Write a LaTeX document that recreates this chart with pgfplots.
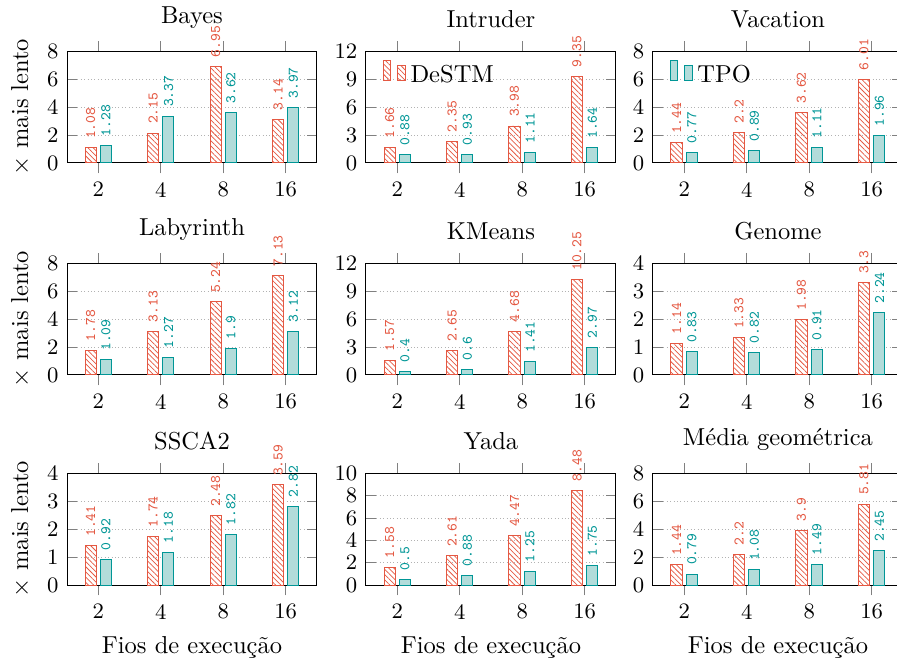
\documentclass[border=0pt]{standalone}
\usepackage{pgfplots}
\pgfplotsset{compat=1.18}
\usetikzlibrary{patterns.meta}
\definecolor{destm}{RGB}{228,88,66}
\definecolor{tpo}{RGB}{0,150,150}
\definecolor{tpofill}{RGB}{178,220,218}
\pgfplotsset{
  sub/.style={
    width=102pt, height=45.5pt, scale only axis,
    anchor=south west,
    ybar, bar width=4.5pt,
    xmin=-0.5, xmax=3.5, ymin=0,
    xtick={0,1,2,3}, xticklabels={2,4,8,16},
    xtick align=outside, ytick align=inside,
    tick style={gray, thin},
    ymajorgrids, grid style={densely dotted, gray!60},
    tick label style={font=\small},
    ylabel shift=0pt,
    clip=false,
    legend style={draw=none, fill=none, at={(0.035,0.97)}, anchor=north west, font=\normalsize},
    nodes near coords={\pgfmathprintnumber[assume math mode=true]{\pgfplotspointmeta}},
    every node near coord/.append style={rotate=90, anchor=west, font=\fontsize{6}{7}\selectfont\ttfamily, inner xsep=3.5pt, inner ysep=0pt},
  },
  dstm/.style={draw=destm, pattern={Lines[angle=-45,distance=1.5pt,line width=0.3pt]}, pattern color=destm, bar shift=-3.15pt, every node near coord/.append style={text=destm}},
  tpo/.style={draw=tpo, fill=tpofill, bar shift=3.15pt, every node near coord/.append style={text=tpo}},
}
\begin{document}
\begin{tikzpicture}
% Row 1
\begin{axis}[sub, at={(27.34pt,204pt)}, title={Bayes}, ymax=8, ytick={0,2,...,8}, ylabel={$\times$ mais lento}]
\addplot[dstm] coordinates {(0,1.08) (1,2.15) (2,6.95) (3,3.14)};
\addplot[tpo] coordinates {(0,1.28) (1,3.37) (2,3.62) (3,3.97)};
\end{axis}
\begin{axis}[sub, at={(149.33pt,204pt)}, title={Intruder}, ymax=12, ytick={0,3,...,12}]
\addplot[dstm] coordinates {(0,1.66) (1,2.35) (2,3.98) (3,9.35)};
\addlegendentry{DeSTM}
\addplot[tpo] coordinates {(0,0.88) (1,0.93) (2,1.11) (3,1.64)};
\end{axis}
\begin{axis}[sub, at={(266.42pt,204pt)}, title={Vacation}, ymax=8, ytick={0,2,...,8}]
\addplot[tpo] coordinates {(0,0.77) (1,0.89) (2,1.11) (3,1.96)};
\addlegendentry{TPO}
\addplot[dstm] coordinates {(0,1.44) (1,2.2) (2,3.62) (3,6.01)};
\end{axis}
% Row 2
\begin{axis}[sub, at={(27.34pt,117.5pt)}, title={Labyrinth}, ymax=8, ytick={0,2,...,8}, ylabel={$\times$ mais lento}]
\addplot[dstm] coordinates {(0,1.78) (1,3.13) (2,5.24) (3,7.13)};
\addplot[tpo] coordinates {(0,1.09) (1,1.27) (2,1.9) (3,3.12)};
\end{axis}
\begin{axis}[sub, at={(149.33pt,117.5pt)}, title={KMeans}, ymax=12, ytick={0,3,...,12}]
\addplot[dstm] coordinates {(0,1.57) (1,2.65) (2,4.68) (3,10.25)};
\addplot[tpo] coordinates {(0,0.4) (1,0.6) (2,1.41) (3,2.97)};
\end{axis}
\begin{axis}[sub, at={(266.42pt,117.5pt)}, title={Genome}, ymax=4, ytick={0,1,...,4}]
\addplot[dstm] coordinates {(0,1.14) (1,1.33) (2,1.98) (3,3.3)};
\addplot[tpo] coordinates {(0,0.83) (1,0.82) (2,0.91) (3,2.24)};
\end{axis}
% Row 3
\begin{axis}[sub, at={(27.34pt,31.8pt)}, title={SSCA2}, ymax=4, ytick={0,1,...,4}, ylabel={$\times$ mais lento}, xlabel={Fios de execução}]
\addplot[dstm] coordinates {(0,1.41) (1,1.74) (2,2.48) (3,3.59)};
\addplot[tpo] coordinates {(0,0.92) (1,1.18) (2,1.82) (3,2.82)};
\end{axis}
\begin{axis}[sub, at={(149.33pt,31.8pt)}, title={Yada}, ymax=10, ytick={0,2,...,10}, xlabel={Fios de execução}]
\addplot[dstm] coordinates {(0,1.58) (1,2.61) (2,4.47) (3,8.48)};
\addplot[tpo] coordinates {(0,0.5) (1,0.88) (2,1.25) (3,1.75)};
\end{axis}
\begin{axis}[sub, at={(266.42pt,31.8pt)}, title={Média geométrica}, ymax=8, ytick={0,2,...,8}, xlabel={Fios de execução}]
\addplot[dstm] coordinates {(0,1.44) (1,2.2) (2,3.9) (3,5.81)};
\addplot[tpo] coordinates {(0,0.79) (1,1.08) (2,1.49) (3,2.45)};
\end{axis}
\pgfresetboundingbox
\path[use as bounding box] (0,0) rectangle (366pt,270.5pt);
\end{tikzpicture}
\end{document}
